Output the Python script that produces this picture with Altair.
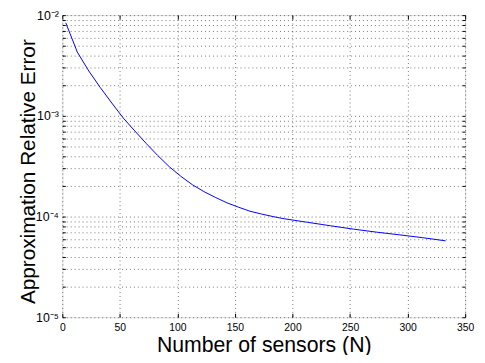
import altair as alt
import pandas as pd

# Data
n_sensors = [3, 13, 23, 33, 43, 53, 63, 73, 83, 93, 103, 113, 123, 133, 143, 153,
             163, 173, 183, 193, 213, 233, 253, 273, 293, 313, 333]
rel_error = [8.4e-3, 4.3e-3, 2.79e-3, 1.91e-3, 1.34e-3, 9.5e-4, 7.08e-4, 5.3e-4,
             4.03e-4, 3.12e-4, 2.51e-4, 2.07e-4, 1.77e-4, 1.55e-4, 1.37e-4, 1.24e-4,
             1.13e-4, 1.06e-4, 1.0e-4, 9.5e-5, 8.77e-5, 8.1e-5, 7.5e-5, 7.0e-5,
             6.58e-5, 6.17e-5, 5.74e-5]

x_ticks = [0, 50, 100, 150, 200, 250, 300, 350]
y_ticks = [m * 10.0 ** e for e in (-5, -4, -3) for m in range(1, 10)] + [1e-2]

df = pd.DataFrame({"n": n_sensors, "err": rel_error})

xs = alt.Scale(domain=[0, 350], nice=False, zero=False)
ys = alt.Scale(type="log", domain=[1e-5, 1e-2], nice=False)

label_expr = ("datum.value == 0.01 ? '10⁻²' : datum.value == 0.001 ? '10⁻³' : "
              "datum.value == 0.0001 ? '10⁻⁴' : datum.value == 0.00001 ? '10⁻⁵' : ''")

FONT = "Liberation Sans"

main = alt.Chart(df).mark_line(color="#0000ff", strokeWidth=1).encode(
    x=alt.X("n:Q", scale=xs, axis=alt.Axis(
        orient="bottom", values=x_ticks, title="Number of sensors (N)",
        domain=False, ticks=False, labelPadding=5, labelFlush=False,
        labelFontSize=10.5, labelFont=FONT, labelColor="black",
        titleFont=FONT, titleFontSize=21.5, titleFontWeight="normal",
        titleColor="black", titlePadding=2,
        grid=True, gridColor="#000000", gridOpacity=0.55, gridDash=[1, 3])),
    y=alt.Y("err:Q", scale=ys, axis=alt.Axis(
        orient="left", values=y_ticks, labelExpr=label_expr, labelOverlap=False,
        title="Approximation Relative Error",
        domain=False, ticks=False, labelPadding=4,
        labelFontSize=12.5, labelFont=FONT, labelColor="black",
        titleFont=FONT, titleFontSize=21, titleFontWeight="normal",
        titleColor="black", titlePadding=-3, titleY=158,
        grid=True, gridColor="#000000", gridOpacity=0.55, gridDash=[1, 3])),
)

ticks_in_lb = alt.Chart(df).mark_line(opacity=0).encode(
    x=alt.X("n:Q", scale=xs, axis=alt.Axis(
        orient="bottom", values=x_ticks, offset=-4, tickSize=4, labels=False,
        domain=False, grid=False, title=None, tickColor="black")),
    y=alt.Y("err:Q", scale=ys, axis=alt.Axis(
        orient="left", values=y_ticks, offset=-3, tickSize=3, labels=False,
        domain=False, grid=False, title=None, tickColor="black")),
)

ticks_in_rt = alt.Chart(df).mark_line(opacity=0).encode(
    x=alt.X("n:Q", scale=xs, axis=alt.Axis(
        orient="top", values=x_ticks, offset=-4, tickSize=4, labels=False,
        domain=False, grid=False, title=None, tickColor="black")),
    y=alt.Y("err:Q", scale=ys, axis=alt.Axis(
        orient="right", values=y_ticks, offset=-3, tickSize=3, labels=False,
        domain=False, grid=False, title=None, tickColor="black")),
)

chart = alt.layer(main, ticks_in_lb, ticks_in_rt).resolve_axis(
    x="independent", y="independent"
).properties(
    width=408, height=306,
    autosize="none",
    padding={"left": 55, "top": 5, "right": 12, "bottom": 36},
).configure_view(stroke="black", strokeWidth=1.2).configure(background="white")

chart.save("out.html", embed_options={"renderer": "svg", "actions": False})
